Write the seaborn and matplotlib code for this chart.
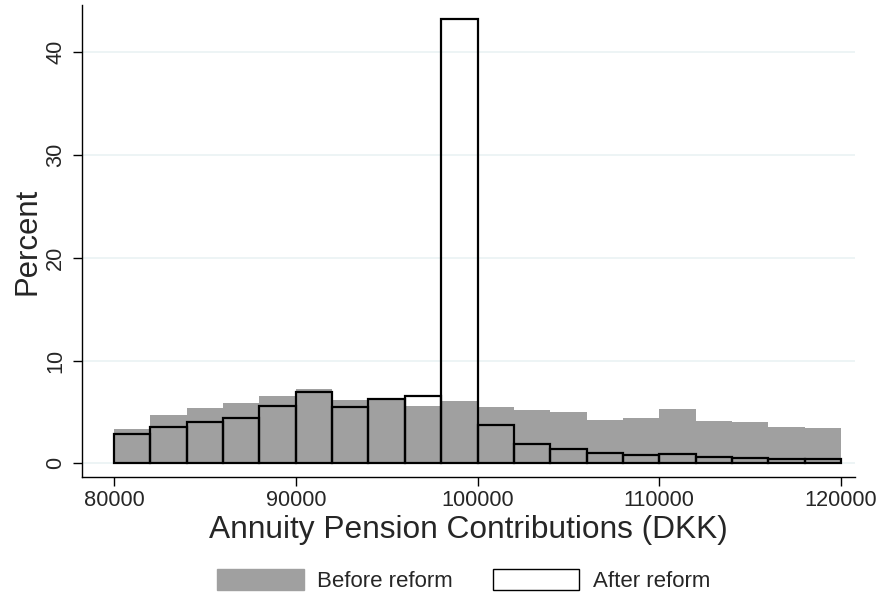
import pandas as pd
import matplotlib
matplotlib.use("Agg")
import matplotlib.pyplot as plt
import seaborn as sns
from matplotlib.patches import Patch

# ----------------------------------
# Daten (Prozent je 2000-DKK-Bin)
# ----------------------------------
bin_start = list(range(80000, 120000, 2000))
bin_breite = 2000
bin_mid = [b + bin_breite / 2 for b in bin_start]

before_pct = [3.31, 4.67, 5.41, 5.87, 6.55, 7.26, 6.13, 6.20, 5.61, 6.09,
              5.45, 5.22, 5.02, 4.18, 4.38, 5.25, 4.12, 3.99, 3.53, 3.41]
after_pct = [2.82, 3.56, 3.99, 4.41, 5.58, 6.91, 5.51, 6.23, 6.58, 43.2,
             3.76, 1.91, 1.36, 1.03, 0.81, 0.87, 0.58, 0.49, 0.42, 0.42]

x_ticks = [80000, 90000, 100000, 110000, 120000]
y_ticks = [0, 10, 20, 30, 40]

df_before = pd.DataFrame({"x": bin_mid, "w": before_pct})
df_after = pd.DataFrame({"x": bin_mid, "w": after_pct})

# ----------------------------------
# Plot
# ----------------------------------
sns.set_style("white")
plt.rcParams["font.family"] = ["Liberation Sans", "DejaVu Sans"]

fig = plt.figure(figsize=(8.8, 5.95), dpi=100)
ax = fig.add_axes([82 / 880, 1 - 477 / 595, (855 - 82) / 880, (477 - 5) / 595])

grau = "#a0a0a0"
spanne = (80000, 120000)
sns.histplot(data=df_before, x="x", weights="w", binwidth=bin_breite, binrange=spanne,
             ax=ax, color=grau, alpha=1, edgecolor=grau, linewidth=0)
sns.histplot(data=df_after, x="x", weights="w", binwidth=bin_breite, binrange=spanne,
             ax=ax, fill=False, color="black", edgecolor="black", linewidth=1.6,
             element="bars")

ax.set_xlim(78239, 120770)
ax.set_ylim(-1.33, 44.6)
ax.set_xticks(x_ticks)
ax.set_xticklabels([str(t) for t in x_ticks])
ax.set_yticks(y_ticks)
ax.set_yticklabels([str(t) for t in y_ticks], rotation=90, va="center")
ax.tick_params(axis="both", labelsize=15.7, direction="out", length=6.5, width=1,
               color="black", left=True, bottom=True)
ax.tick_params(axis="x", pad=3)
ax.tick_params(axis="y", pad=5)

ax.yaxis.grid(True, color="#eaf2f3", linewidth=1.2)
ax.set_axisbelow(True)
for s in ["top", "right"]:
    ax.spines[s].set_visible(False)
for s in ["left", "bottom"]:
    ax.spines[s].set_color("black")
    ax.spines[s].set_linewidth(1)

ax.set_xlabel("Annuity Pension Contributions (DKK)", fontsize=22.8, labelpad=3)
ax.set_ylabel("Percent", fontsize=22.4, labelpad=2)

handles = [Patch(facecolor=grau, edgecolor=grau, label="Before reform"),
           Patch(facecolor="white", edgecolor="black", linewidth=1, label="After reform")]
fig.legend(handles=handles, loc="center", bbox_to_anchor=(463.5 / 880, 14.5 / 595),
           ncol=2, frameon=False, fontsize=16, handlelength=3.9, handleheight=1.08,
           columnspacing=1.8, handletextpad=0.6, borderpad=0)

fig.savefig("out.png", dpi=100)
